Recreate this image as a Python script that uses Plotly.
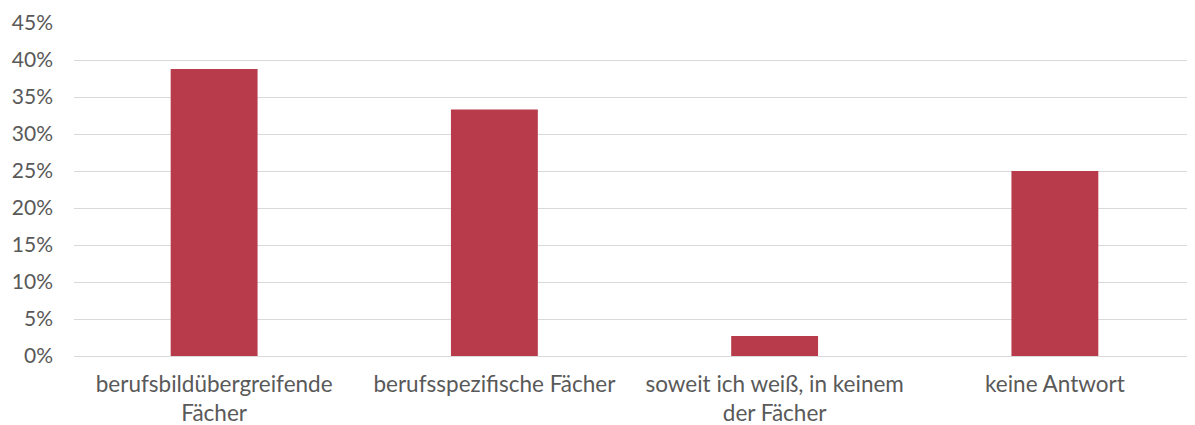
import plotly.graph_objects as go

categories = ["berufsbildübergreifende<br>Fächer", "berufsspezifische Fächer",
              "soweit ich weiß, in keinem<br>der Fächer", "keine Antwort"]
values = [38.8, 33.3, 2.7, 25.0]
tick_vals = [0, 5, 10, 15, 20, 25, 30, 35, 40, 45]
tick_text = [f"{v}%" for v in tick_vals]

fig = go.Figure(go.Bar(x=categories, y=values, marker_color="#B73B4B",
                       marker_line_width=0))
fig.update_layout(
    width=1187, height=417,
    margin=dict(l=66, r=0, t=15, b=69, autoexpand=False),
    plot_bgcolor="white", paper_bgcolor="white",
    bargap=0.69,
    font=dict(family="Lato", size=21, color="#595959"),
    showlegend=False,
)
fig.update_yaxes(range=[0, 45], tickvals=tick_vals, ticktext=tick_text,
                 showgrid=True, gridcolor="#D9D9D9", gridwidth=1.3,
                 zeroline=False, ticks="", ticklen=0, ticklabelstandoff=20,
                 automargin=False, tickfont=dict(size=21))
fig.update_xaxes(showline=True, linecolor="#D9D9D9", linewidth=1.3, ticks="",
                 ticklabelstandoff=8, automargin=False, tickfont=dict(size=22.5))
fig.write_html("out.html")
